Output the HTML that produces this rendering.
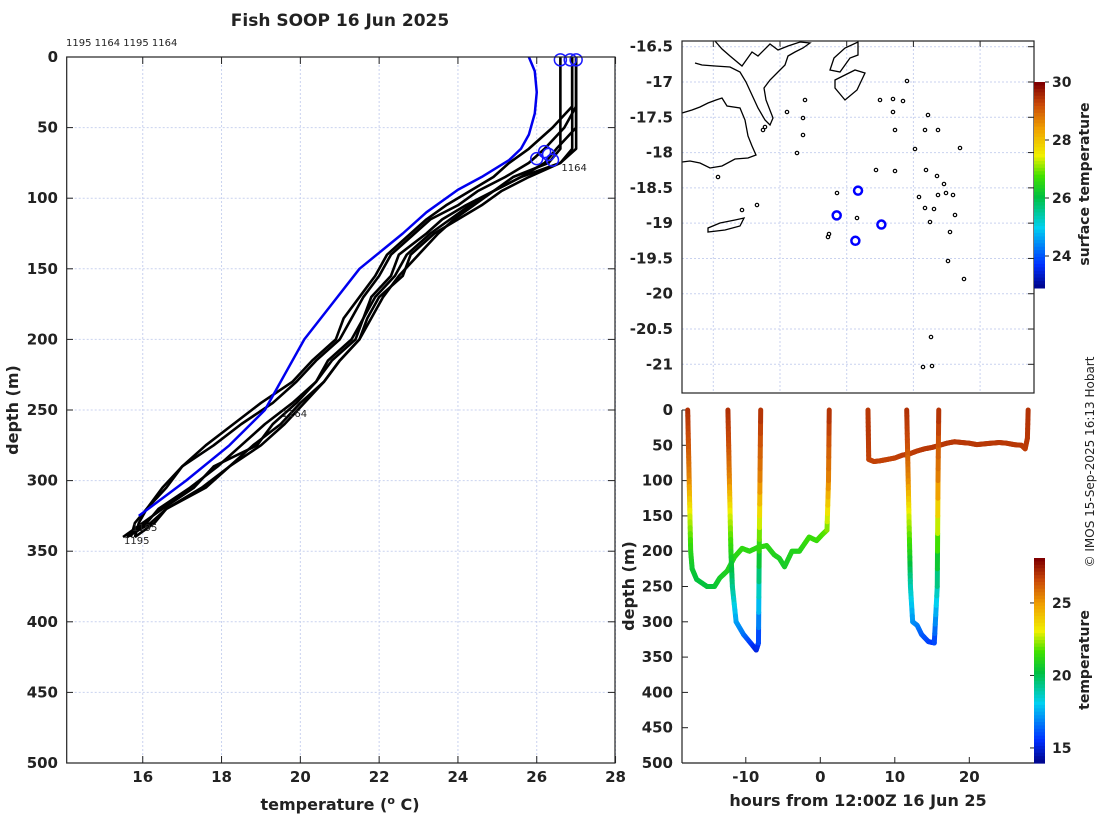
<!DOCTYPE html>
<html><head><meta charset="utf-8"><style>
body{margin:0;background:#fff}
svg text{font-family:"DejaVu Sans","Liberation Sans",sans-serif;fill:#222}
.tk{font-size:15px;font-weight:bold}
.lab{font-size:16px;font-weight:bold}
</style></head><body>
<svg id="fig" width="1100" height="820" xmlns="http://www.w3.org/2000/svg">
<text x="340" y="26" text-anchor="middle" style="font-size:17px;font-weight:bold">Fish SOOP 16 Jun 2025</text>
<text x="66" y="46" style="font-size:10px">1195 1164 1195 1164</text>
<g id="left"></g>
<g id="map"></g>
<g id="sect"></g>
<text transform="translate(1094,462) rotate(-90)" text-anchor="middle" style="font-size:12px">© IMOS 15-Sep-2025 16:13 Hobart</text>
</svg>
<script>
// ---- profile plot data ----
const profDepths=[0,35,50,65,75,85,95,105,115,125,140,155,170,185,200,215,230,245,260,275,290,305,320,330,340];
const profTemps=[
 [26.6,26.6,26.6,26.6,26.3,25.4,24.9,24.2,23.6,23.2,22.5,22.3,21.8,21.6,21.3,20.7,20.4,19.9,19.3,18.9,17.8,17.3,16.5,16.0,15.5],
 [26.9,26.9,26.9,26.9,26.6,25.8,25.1,24.6,24.0,23.4,22.8,22.6,22.0,21.7,21.5,21.0,20.6,20.1,19.6,19.0,18.2,17.5,16.6,16.2,15.6],
 [27.0,27.0,26.7,26.2,25.8,25.2,24.5,24.0,23.3,22.9,22.3,22.0,21.6,21.3,21.0,20.4,19.9,19.3,18.5,17.8,17.0,16.6,16.1,15.8,15.7],
 [27.0,27.0,27.0,26.5,26.2,25.6,24.9,24.4,23.9,23.5,23.0,22.5,22.1,21.8,21.5,21.0,20.6,20.0,19.5,18.8,18.2,17.6,16.6,16.3,15.8],
 [26.9,26.9,26.4,25.8,25.3,24.9,24.3,23.7,23.2,22.8,22.2,21.9,21.5,21.1,20.9,20.3,19.8,19.0,18.3,17.6,17.0,16.5,16.1,15.9,15.8],
 [27.0,27.0,27.0,27.0,26.6,25.6,24.9,24.3,23.8,23.3,22.7,22.4,21.9,21.6,21.4,20.8,20.4,19.8,19.1,18.5,17.9,17.2,16.4,16.1,15.6]
];
const blueDepths=[0,10,25,40,55,65,73,85,94,110,125,150,175,200,225,250,275,300,325];
const blueTemps=[25.8,25.95,26.0,25.95,25.8,25.6,25.3,24.6,24.0,23.2,22.6,21.5,20.8,20.1,19.6,19.1,18.2,17.1,15.9];
const circT=[26.6,26.85,27.0,26.0,26.2,26.4,26.3];
const circD=[2,2,2,72,67,73,69];
const xTicks=[16,18,20,22,24,26,28];
const yTicks=[0,50,100,150,200,250,300,350,400,450,500];
// ---- map data ----
const lonTicks=[178,179,180,181,182];
const latTicks=[-16.5,-17,-17.5,-18,-18.5,-19,-19.5,-20,-20.5,-21];
const stLon=[180.17,179.85,180.52,180.13];
const stLat=[-18.54,-18.89,-19.02,-19.25];
const sstTicks=[24,26,28,30];
// ---- section data ----
const diveHours=[
 [-17.8,-17.7,-17.6,-17.5,-17.4,-17.2,-16.6,-15.2,-14.2,-13.5,-12.5,-11.5,-10.5,-9.5,-8.5,-7.2,-6.2,-5.5,-4.8,-3.8,-2.8,-1.5,-0.5,0.3,0.9,1.1,1.2],
 [-12.4,-12.3,-12.2,-12.1,-12.0,-11.8,-11.3,-10.3,-9.2,-8.6,-8.3,-8.2,-8.1,-8.0],
 [6.4,6.45,6.5,7.2,8.0,9.0,10.0,11.0,12.0,13.0,14.0,15.0,16.0,17.0,18.0,19.0,20.0,21.0,22.0,23.0,24.0,25.0,26.0,27.0,27.5,27.8,27.9],
 [11.6,11.7,11.8,11.9,12.0,12.1,12.4,13.0,13.6,14.5,15.3,15.7,15.8,15.9]
];
const diveDepths=[
 [0,50,100,150,200,225,240,250,250,238,228,208,196,200,195,192,205,210,222,200,200,180,185,176,170,100,0],
 [0,50,100,150,200,250,300,318,332,340,330,200,100,0],
 [0,35,70,73,72,70,68,64,62,58,55,53,50,47,45,46,47,49,48,47,46,47,49,50,55,40,0],
 [0,50,100,150,200,250,300,305,318,328,330,250,100,0]
];
const diveTemps=[
 [27.2,26.5,25.5,23.0,21.3,20.7,20.4,20.4,20.5,20.8,21.0,21.2,21.4,21.3,21.3,21.3,21.1,21.0,20.8,21.1,21.1,21.6,21.5,21.8,22.0,25.5,27.2],
 [27.2,26.6,25.5,23.0,21.3,19.5,17.5,16.8,15.8,15.2,15.6,21.0,25.5,27.2],
 [27.0,27.0,26.8,26.8,26.8,26.8,26.8,26.9,26.9,26.9,27.0,27.0,27.0,27.0,27.0,27.0,27.0,27.0,27.0,27.0,27.0,27.0,27.0,27.0,26.9,27.0,27.1],
 [27.2,26.6,25.5,23.0,21.3,19.0,17.3,17.0,16.4,16.0,15.8,19.0,25.5,27.2]
];
const tempTicks=[15,20,25];

const NS='http://www.w3.org/2000/svg';
function mk(p,tag,attrs,txt){const e=document.createElementNS(NS,tag);for(const k in attrs)e.setAttribute(k,attrs[k]);if(txt!==undefined)e.textContent=txt;p.appendChild(e);return e;}
const cmapStops=[[0,[0,0,127]],[0.12,[0,48,255]],[0.3,[0,208,240]],[0.45,[0,192,64]],[0.55,[64,224,0]],[0.65,[240,240,0]],[0.78,[240,160,0]],[0.9,[200,72,8]],[1,[128,0,0]]];
function jet(t){t=Math.max(0,Math.min(1,t));for(let i=0;i<cmapStops.length-1;i++){const a=cmapStops[i],b=cmapStops[i+1];if(t<=b[0]){const f=(t-a[0])/(b[0]-a[0]);return 'rgb('+a[1].map((v,k)=>Math.round(v+(b[1][k]-v)*f)).join(',')+')';}}return 'rgb(128,0,0)';}

// ===== Left profile plot =====
const L=document.getElementById('left');
const lx=t=>66.7+(t-14.07)*39.4, ly=d=>57+d*1.412;
for(const t of xTicks){
 let g=mk(L,'line',{x1:lx(t),x2:lx(t),y1:57,y2:763,stroke:'#c9d2ef','stroke-dasharray':'2,2'});
 
 mk(L,'line',{x1:lx(t),x2:lx(t),y1:763,y2:756,stroke:'#222'});
 mk(L,'line',{x1:lx(t),x2:lx(t),y1:57,y2:64,stroke:'#222'});
 let tx=mk(L,'text',{x:lx(t),y:782,'text-anchor':'middle',class:'tk'},t);
 
}
for(const d of yTicks){
 let g=mk(L,'line',{x1:66.7,x2:615,y1:ly(d),y2:ly(d),stroke:'#c9d2ef','stroke-dasharray':'2,2'});
 
 mk(L,'line',{x1:66.7,x2:73,y1:ly(d),y2:ly(d),stroke:'#222'});
 mk(L,'line',{x1:608,x2:615,y1:ly(d),y2:ly(d),stroke:'#222'});
 let tx=mk(L,'text',{x:58,y:ly(d)+5,'text-anchor':'end',class:'tk'},d);
 
}
profTemps.forEach(ts=>{
 let p=mk(L,'polyline',{points:ts.map((t,i)=>lx(t)+','+ly(profDepths[i])).join(' '),fill:'none',stroke:'#000','stroke-width':2.6,'stroke-linejoin':'round'});
 
});
let bl=mk(L,'polyline',{points:blueTemps.map((t,i)=>lx(t)+','+ly(blueDepths[i])).join(' '),fill:'none',stroke:'#0000ee','stroke-width':2.5,'stroke-linejoin':'round'});

circT.forEach((t,i)=>{
 let c=mk(L,'circle',{cx:lx(t),cy:ly(circD[i]),r:6,fill:'none',stroke:'#1a1aff','stroke-width':1.5});
 
});
[[26.6,78,'1164'],[19.5,252,'1164'],[15.7,333,'1195'],[15.5,342,'1195']].forEach(a=>{
 let t=mk(L,'text',{x:lx(a[0])+1,y:ly(a[1])+4,style:'font-size:10px'},a[2]);
 
});
mk(L,'rect',{x:66.7,y:57,width:548.3,height:706,fill:'none',stroke:'#222','stroke-width':1.2});
let xl=mk(L,'text',{x:340,y:810,'text-anchor':'middle',class:'lab'},'temperature (');

mk(xl,'tspan',{dy:-6,style:'font-size:11px'},'o');mk(xl,'tspan',{dy:6},' C)');
let yl=mk(L,'text',{transform:'translate(18,410) rotate(-90)','text-anchor':'middle',class:'lab'},'depth (m)');


// ===== Map =====
const M=document.getElementById('map');
const mx=lo=>846.7+(lo-180)*66.7, my=la=>46.7+(-16.5-la)*70.58;
for(const lo of lonTicks){
 mk(M,'line',{x1:mx(lo),x2:mx(lo),y1:41,y2:393,stroke:'#c9d2ef','stroke-dasharray':'2,2'});
 mk(M,'line',{x1:mx(lo),x2:mx(lo),y1:41,y2:47,stroke:'#222'});
 let t=mk(M,'text',{x:mx(lo),y:420,'text-anchor':'middle',class:'tk'},lo);
 
}
for(const la of latTicks){
 mk(M,'line',{x1:682,x2:1034,y1:my(la),y2:my(la),stroke:'#c9d2ef','stroke-dasharray':'2,2'});
 mk(M,'line',{x1:1028,x2:1034,y1:my(la),y2:my(la),stroke:'#222'});
 let t=mk(M,'text',{x:673,y:my(la)+5,'text-anchor':'end',class:'tk'},la);
 
}
const coast=[
 'M682,113 L692,110 L700,107 L708,103 L716,100 L722,98 L727,106 L740,108 L745,120 L748,136 L752,146 L756,155 L748,158 L735,159 L722,166 L710,168 L700,163 L690,161 L682,162',
 'M695,63 L702,65 L715,66 L730,67 L740,72 L746,82 L752,95 L758,108 L765,120 L770,125 L773,118 L766,100 L764,88 L770,80 L778,72 L785,65 L788,56 L795,52 L803,48 L810,43 L800,42 L788,46 L778,50 L770,44 L758,56 L752,52 L742,66 L730,56 L722,49 L715,41',
 'M834,58 L845,48 L858,42 L858,55 L850,58 L840,72 L830,70 Z',
 'M835,80 L855,70 L865,73 L857,90 L845,100 L835,88 Z',
 'M708,228 L720,223 L735,220 L744,218 L740,226 L725,230 L708,232 Z'
];
coast.forEach(d=>{let p=mk(M,'path',{d:d,fill:'none',stroke:'#000','stroke-width':1.3});});
[[805,100],[787,112],[803,118],[765,127],[763,130],[803,135],[797,153],[718,177],[757,205],[742,210],[828,237],[837,193],[857,218],[829,234],[876,170],[895,171],[926,170],[893,99],[880,100],[903,101],[928,115],[893,112],[915,149],[937,176],[919,197],[938,195],[946,193],[953,195],[925,208],[955,215],[930,222],[950,232],[948,261],[964,279],[931,337],[923,367],[932,366],[907,81],[895,130],[925,130],[938,130],[960,148],[944,184],[934,209]].forEach(p=>{
 let c=mk(M,'circle',{cx:p[0],cy:p[1],r:1.7,fill:'none',stroke:'#000','stroke-width':1.2});
 
});
stLon.forEach((lo,i)=>{
 let c=mk(M,'circle',{cx:mx(lo),cy:my(stLat[i]),r:4,fill:'none',stroke:'#0000ff','stroke-width':2.5});
 
});
mk(M,'rect',{x:682,y:41,width:352,height:352,fill:'none',stroke:'#222','stroke-width':1.2});
const sy=v=>82+(30-v)*29;
for(let i=0;i<60;i++){const v0=30-i*(7.1/60);mk(M,'rect',{x:1034,y:sy(v0),width:11,height:29*7.1/60+0.6,fill:jet((v0-22.9)/7.1)});}
for(const v of sstTicks){mk(M,'line',{x1:1045,x2:1049,y1:sy(v),y2:sy(v),stroke:'#222'});
 let t=mk(M,'text',{x:1052,y:sy(v)+5,class:'tk',style:'font-size:14px'},v);}
let st=mk(M,'text',{transform:'translate(1089,184) rotate(-90)','text-anchor':'middle',style:'font-size:14px;font-weight:bold'},'surface temperature');


// ===== Section plot =====
const S=document.getElementById('sect');
const hx=h=>820.3+h*7.45, dy=d=>410+d*0.706;
mk(S,'rect',{x:682,y:403,width:352,height:360,fill:'#fff'});
for(const h of [-10,0,10,20]){mk(S,'line',{x1:hx(h),x2:hx(h),y1:763,y2:757,stroke:'#222'});
 let t=mk(S,'text',{x:hx(h),y:782,'text-anchor':'middle',class:'tk'},h);}
for(const d of yTicks){mk(S,'line',{x1:682,x2:688,y1:dy(d),y2:dy(d),stroke:'#222'});
 let t=mk(S,'text',{x:673,y:dy(d)+5,'text-anchor':'end',class:'tk'},d);}
diveHours.forEach((hs,k)=>{
 const g=mk(S,'g',{});
 for(let i=0;i<hs.length-1;i++){
  const n=6;
  for(let j=0;j<n;j++){
   const a=j/n,b=(j+1)/n;
   const h0=hs[i]+(hs[i+1]-hs[i])*a,h1=hs[i]+(hs[i+1]-hs[i])*b;
   const d0=diveDepths[k][i]+(diveDepths[k][i+1]-diveDepths[k][i])*a,d1=diveDepths[k][i]+(diveDepths[k][i+1]-diveDepths[k][i])*b;
   const t=diveTemps[k][i]+(diveTemps[k][i+1]-diveTemps[k][i])*(a+b)/2;
   mk(g,'line',{x1:hx(h0),y1:dy(d0),x2:hx(h1),y2:dy(d1),stroke:jet((t-13.96)/14.14),'stroke-width':5,'stroke-linecap':'round'});
  }
 }
});
mk(S,'line',{x1:682,x2:682,y1:410,y2:763,stroke:'#222','stroke-width':1.2});
mk(S,'line',{x1:682,x2:1034,y1:763,y2:763,stroke:'#222','stroke-width':1.2});
const cy=v=>558+(28.1-v)*14.5;
for(let i=0;i<60;i++){const v0=28.1-i*(14.14/60);mk(S,'rect',{x:1034,y:cy(v0),width:11,height:14.5*14.14/60+0.6,fill:jet((v0-13.96)/14.14)});}
for(const v of tempTicks){mk(S,'line',{x1:1030,x2:1034,y1:cy(v),y2:cy(v),stroke:'#222'});
 let t=mk(S,'text',{x:1052,y:cy(v)+5,class:'tk',style:'font-size:14px'},v);}
let tt=mk(S,'text',{transform:'translate(1089,660) rotate(-90)','text-anchor':'middle',style:'font-size:14px;font-weight:bold'},'temperature');

let hl=mk(S,'text',{x:858,y:806,'text-anchor':'middle',class:'lab'},'hours from 12:00Z 16 Jun 25');

let dl=mk(S,'text',{transform:'translate(634,586) rotate(-90)','text-anchor':'middle',class:'lab'},'depth (m)');

</script>
</body></html>
